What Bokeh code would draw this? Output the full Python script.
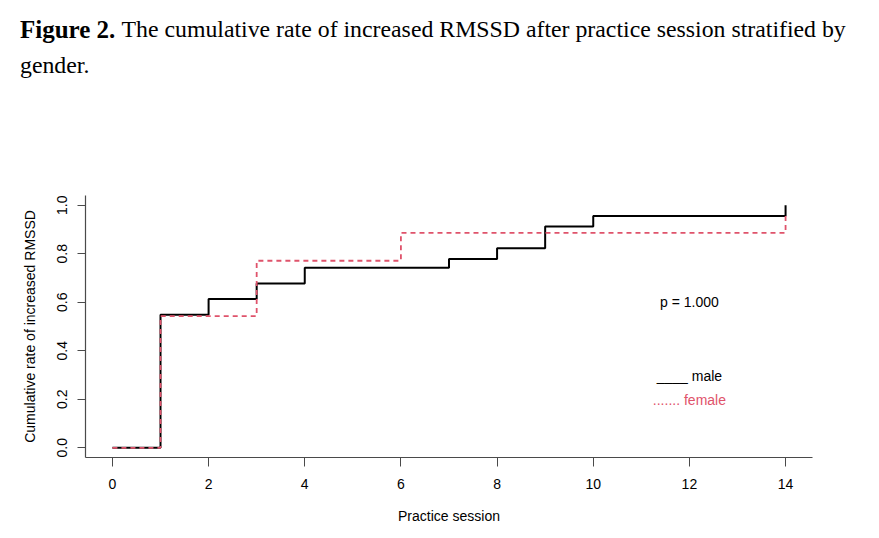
from bokeh.plotting import figure
from bokeh.models import Label, FixedTicker, Range1d, PrintfTickFormatter
from bokeh.core.properties import value
from bokeh.embed import file_html
from bokeh.resources import INLINE

# data
male_x = [0, 1, 2, 3, 4, 7, 8, 9, 10, 14]
male_y = [0.0, 0.548, 0.613, 0.677, 0.742, 0.778, 0.823, 0.912, 0.956, 1.0]
female_x = [0, 1, 3, 6, 14]
female_y = [0.0, 0.543, 0.771, 0.886, 0.971]
x_ticks = [0, 2, 4, 6, 8, 10, 12, 14]
y_ticks = [0.0, 0.2, 0.4, 0.6, 0.8, 1.0]
p_text = "p = 1.000"
legend_male = "____ male"
legend_female = "....... female"

RED = "#DF536B"
AX = "#4a4a4a"
FONT = "Liberation Sans"

p = figure(width=863, height=530, output_backend="svg", toolbar_location=None,
           x_range=Range1d(-0.56, 14.56), y_range=Range1d(-0.04, 1.04),
           min_border_left=85, min_border_right=51, min_border_top=195, min_border_bottom=73)
p.outline_line_color = None
p.grid.visible = False
p.background_fill_color = "white"
p.border_fill_color = "white"

for ax in (p.xaxis[0], p.yaxis[0]):
    ax.axis_line_color = AX
    ax.axis_line_width = 1.2
    ax.major_tick_line_color = AX
    ax.major_tick_in = 0
    ax.minor_tick_line_color = None
    ax.major_label_text_font = FONT
    ax.major_label_text_font_size = "14px"
    ax.major_label_text_color = "black"
    ax.axis_label_text_font = FONT
    ax.axis_label_text_font_size = "14px"
    ax.axis_label_text_font_style = "normal"
    ax.axis_label_text_color = "black"

p.xaxis.ticker = FixedTicker(ticks=x_ticks)
p.yaxis.ticker = FixedTicker(ticks=y_ticks)
p.yaxis.formatter = PrintfTickFormatter(format="%.1f")
p.xaxis.major_tick_out = 9
p.yaxis.major_tick_out = 8
p.xaxis.major_label_standoff = 12
p.yaxis.major_label_standoff = 10
p.yaxis.major_label_orientation = "vertical"
p.xaxis.axis_label = "Practice session"
p.yaxis.axis_label = "Cumulative rate of increased RMSSD"
p.xaxis.axis_label_standoff = 16
p.yaxis.axis_label_standoff = 17

p.step(male_x, male_y, mode="after", line_color="black", line_width=2)
p.step(female_x, female_y, mode="after", line_color=RED, line_width=1.8, line_dash="5 4")

p.text(x=[12], y=[0.6], text=[p_text], text_align="center", text_baseline="middle",
       text_font=value(FONT), text_font_size="14px", text_color="black")
p.text(x=[12], y=[0.296], text=[legend_male], text_align="center", text_baseline="middle",
       text_font=value(FONT), text_font_size="14px", text_color="black")
p.text(x=[12], y=[0.196], text=[legend_female], text_align="center", text_baseline="middle",
       text_font=value(FONT), text_font_size="14px", text_color=RED)

TFONT = "Liberation Serif"
p.add_layout(Label(x=19.5, y=28.5, x_units="canvas", y_units="canvas", text="Figure 2.",
                   text_font=TFONT, text_font_size="25px", text_font_style="bold",
                   text_baseline="alphabetic", text_color="black"), "above")
p.add_layout(Label(x=121, y=28.5, x_units="canvas", y_units="canvas",
                   text="The cumulative rate of increased RMSSD after practice session stratified by",
                   text_font=TFONT, text_font_size="23.8px",
                   text_baseline="alphabetic", text_color="black"), "above")
p.add_layout(Label(x=19.5, y=64.5, x_units="canvas", y_units="canvas", text="gender.",
                   text_font=TFONT, text_font_size="23.8px",
                   text_baseline="alphabetic", text_color="black"), "above")

open("out.html", "w").write(file_html(p, INLINE))
